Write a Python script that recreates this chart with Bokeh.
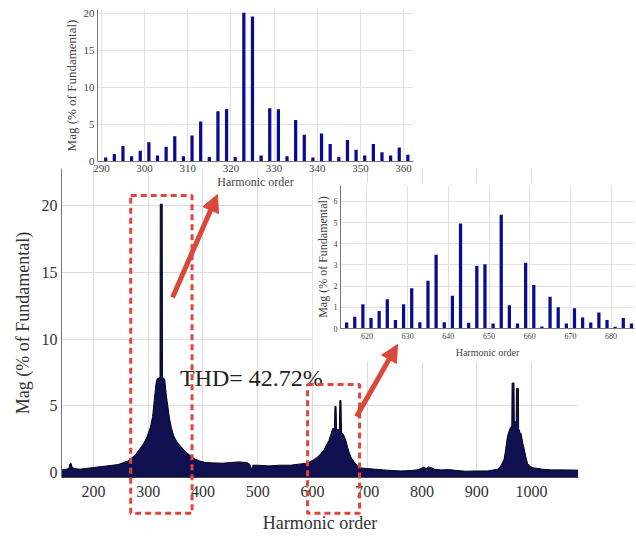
from bokeh.plotting import figure
from bokeh.models import Range1d, FixedTicker, Label, Arrow, NormalHead, BoxAnnotation
from bokeh.embed import file_html
from bokeh.resources import INLINE

# ---------------- data ----------------
# main spectrum envelope: harmonic order -> magnitude (% of fundamental)
main_h = [142, 150, 155, 157, 159, 161, 165, 175, 185, 195, 205, 215, 225, 235, 245,
          255, 262, 270, 278, 285, 292, 298, 304, 308, 311, 314, 316, 320, 321.5, 322,
          325.5, 326, 330, 333, 336, 339, 342, 346, 351, 356, 361, 367, 373, 380, 386,
          395, 405, 420, 436, 450, 465, 480, 486, 488, 491, 500, 520, 540, 560, 579,
          590, 600, 609, 615, 621, 626, 630, 634, 637, 640, 641, 643, 644, 649, 650,
          652, 653, 657, 661, 664, 667, 671, 676, 682, 688, 700, 715, 730, 745, 761,
          780, 791, 797, 803, 808, 812, 818, 823, 835, 850, 864, 880, 900, 920, 938,
          944, 950, 953, 956, 959, 962, 964, 964.5, 968, 968.5, 972, 972.5, 976, 976.5, 979,
          981, 984, 987, 990, 993, 1000, 1005, 1020, 1036, 1060, 1085]
main_v = [0.2, 0.25, 0.3, 0.65, 0.7, 0.4, 0.3, 0.25, 0.3, 0.35, 0.4, 0.45, 0.5, 0.55, 0.6,
          0.75, 0.85, 1.1, 1.4, 1.8, 2.2, 2.7, 3.4, 4.2, 5.4, 6.6, 7.0, 7.1, 7.1, 20.1,
          20.1, 7.1, 7.0, 5.8, 4.9, 4.0, 3.4, 2.8, 2.4, 2.1, 1.9, 1.6, 1.4, 1.15, 1.0,
          0.85, 0.75, 0.72, 0.7, 0.75, 0.8, 0.75, 0.6, 0.15, 0.55, 0.55, 0.5, 0.55, 0.55, 0.65,
          0.7, 0.9, 1.15, 1.4, 1.7, 2.1, 2.4, 2.9, 3.3, 3.3, 4.95, 4.95, 3.2, 3.2, 5.4,
          5.4, 3.0, 2.8, 2.4, 1.9, 1.5, 1.1, 0.8, 0.5, 0.35, 0.3, 0.25, 0.2, 0.15, 0.12,
          0.15, 0.2, 0.28, 0.4, 0.3, 0.42, 0.35, 0.25, 0.2, 0.22, 0.15, 0.1, 0.12, 0.12, 0.25,
          0.5, 1.0, 1.8, 2.7, 3.1, 3.4, 3.5, 6.7, 6.7, 3.8, 3.8, 6.3, 6.3, 3.3, 3.0,
          2.9, 2.2, 1.7, 1.1, 0.65, 0.4, 0.35, 0.25, 0.2, 0.2, 0.18]

# zoom around the switching frequency (top inset)
top_orders = [291, 293, 295, 297, 299, 301, 303, 305, 307, 309, 311, 313, 315, 317, 319, 321,
              323, 325, 327, 329, 331, 333, 335, 337, 339, 341, 343, 345, 347, 349, 351, 353,
              355, 357, 359, 361]
top_mag = [0.55, 1.0, 2.1, 0.7, 1.45, 2.6, 0.8, 2.0, 3.4, 0.7, 3.5, 5.4, 0.6, 6.8, 7.1, 0.6,
           20.1, 19.6, 0.8, 7.2, 7.05, 0.7, 5.6, 3.6, 0.55, 3.8, 2.35, 0.6, 2.9, 1.6, 0.8, 2.35,
           1.25, 0.8, 1.9, 0.9]

# zoom around twice the switching frequency (right inset)
right_orders = [615, 617, 619, 621, 623, 625, 627, 629, 631, 633, 635, 637, 639, 641, 643, 645,
                647, 649, 651, 653, 655, 657, 659, 661, 663, 665, 667, 669, 671, 673, 675, 677,
                679, 681, 683, 685]
right_mag = [0.28, 0.55, 1.15, 0.5, 0.83, 1.38, 0.4, 1.15, 1.9, 0.3, 2.25, 3.48, 0.3, 1.55, 4.96, 0.27,
             2.96, 3.04, 0.24, 5.37, 1.1, 0.24, 3.1, 2.05, 0.1, 1.5, 1.0, 0.24, 0.96, 0.52, 0.28, 0.76,
             0.4, 0.08, 0.5, 0.24]

main_xticks = [200, 300, 400, 500, 600, 700, 800, 900, 1000]
main_yticks = [0, 5, 10, 15, 20]
top_xticks = [290, 300, 310, 320, 330, 340, 350, 360]
top_yticks = [0, 5, 10, 15, 20]
right_xticks = [620, 630, 640, 650, 660, 670, 680]
right_yticks = [0, 1, 2, 3, 4, 5, 6]

thd_text = "THD= 42.72%"
x_title = "Harmonic order"
y_title = "Mag (% of Fundamental)"

# ---------------- styling / layout (page pixels) ----------------
SERIF = "Liberation Serif"
BAR = "#0b0b92"
SPEC_FILL = "#101050"
SPEC_LINE = "#03031a"
RED = "#d9483a"
GRID = "#dcdcdc"

# main frame placement
M_L, M_T, M_W, M_H = 61, 168, 517, 309
M_X0, M_X1 = 141.6, 1085.8
M_Y0, M_Y1 = -0.37, 22.77


def style_axes(p, tick_size, label_size, tick_color="#333333", grid=GRID):
    p.outline_line_color = None
    for ax in (p.xaxis, p.yaxis):
        ax.axis_line_color = "#777777"
        ax.major_tick_out = 0
        ax.major_tick_in = 0
        ax.minor_tick_line_color = None
        ax.major_label_text_font = SERIF
        ax.major_label_text_font_size = tick_size
        ax.major_label_text_color = tick_color
        ax.axis_label_text_font = SERIF
        ax.axis_label_text_font_size = label_size
        ax.axis_label_text_font_style = "normal"
        ax.axis_label_text_color = tick_color
    p.xgrid.grid_line_color = grid
    p.ygrid.grid_line_color = grid


def place(p, left, top):
    p.styles = {"position": "absolute", "left": f"{left}px", "top": f"{top}px"}


# ---- main figure (placed at page origin, borders give the frame position) ----
main = figure(width=636, height=536, min_border_left=M_L, min_border_top=M_T,
              min_border_right=636 - M_L - M_W, min_border_bottom=536 - M_T - M_H,
              x_range=Range1d(M_X0, M_X1), y_range=Range1d(M_Y0, M_Y1),
              output_backend="svg", toolbar_location=None)
style_axes(main, "16px", "18px")
main.xaxis.ticker = FixedTicker(ticks=main_xticks)
main.yaxis.ticker = FixedTicker(ticks=main_yticks)
main.xaxis.axis_label = x_title
main.yaxis.axis_label = y_title
main.xaxis.axis_line_color = "#444444"
main.xaxis.major_label_standoff = 8
main.xaxis.axis_label_standoff = 13
main.yaxis.major_label_standoff = 4
main.yaxis.axis_label_standoff = 6
main.varea(x=main_h, y1=M_Y0, y2=main_v, fill_color=SPEC_FILL)
main.line(x=main_h, y=main_v, line_color=SPEC_LINE, line_width=1)
main.add_layout(Label(x=358, y=7.1, text=thd_text, text_font=SERIF, text_font_size="24px",
                      text_baseline="middle", text_color="#222222"))
place(main, 0, 0)

# ---- top inset ----
top = figure(width=358, height=194, min_border_left=30, min_border_top=9,
             min_border_right=5, min_border_bottom=33,
             x_range=Range1d(289.1, 362.3), y_range=Range1d(0, 20.54),
             output_backend="svg", toolbar_location=None)
style_axes(top, "11px", "12px", "#444444", "#e2e2e2")
top.yaxis.axis_label_text_font_size = "13px"
top.border_fill_alpha = 0
top.xaxis.ticker = FixedTicker(ticks=top_xticks)
top.yaxis.ticker = FixedTicker(ticks=top_yticks)
top.xaxis.axis_label = x_title
top.yaxis.axis_label = y_title
top.xaxis.major_label_standoff = 3
top.xaxis.axis_label_standoff = 0
top.yaxis.major_label_standoff = 3
top.yaxis.axis_label_standoff = 2
top.vbar(x=top_orders, top=top_mag, width=0.75, bottom=0, fill_color=BAR, line_color=None)
place(top, 60, 0)

# ---- right inset ----
right = figure(width=324, height=180, min_border_left=27, min_border_top=3,
               min_border_right=2, min_border_bottom=34,
               x_range=Range1d(613.5, 685.75), y_range=Range1d(0, 6.755),
               output_backend="svg", toolbar_location=None)
style_axes(right, "8px", "10px", "#444444", "#e2e2e2")
right.yaxis.axis_label_text_font_size = "12px"
right.xaxis.ticker = FixedTicker(ticks=right_xticks)
right.yaxis.ticker = FixedTicker(ticks=right_yticks)
right.xaxis.axis_label = x_title
right.yaxis.axis_label = y_title
right.xaxis.major_label_standoff = 4
right.xaxis.axis_label_standoff = 5
right.yaxis.major_label_standoff = 3
right.yaxis.axis_label_standoff = 1
right.vbar(x=right_orders, top=right_mag, width=0.8, bottom=0, fill_color=BAR, line_color=None)
place(right, 312, 182)

# ---- overlay for zoom boxes and arrows (page pixel coordinates) ----
ov = figure(width=636, height=537, x_range=Range1d(0, 636), y_range=Range1d(537, 0),
            min_border_left=0, min_border_right=0, min_border_top=0, min_border_bottom=0,
            x_axis_location=None, y_axis_location=None,
            output_backend="svg", toolbar_location=None)
ov.grid.visible = False
ov.outline_line_color = None
ov.background_fill_alpha = 0
ov.border_fill_alpha = 0
place(ov, 0, 0)


def px_x(h):
    return M_L + (h - M_X0) / (M_X1 - M_X0) * M_W


def px_y(m):
    return M_T + M_H - (m - M_Y0) / (M_Y1 - M_Y0) * M_H


# zoom boxes in main-plot units: (h_left, h_right, mag_bottom, mag_top)
zoom_boxes = [(268, 380, -3.05, 20.75), (591, 686, -3.05, 6.6)]
for hl, hr, mb, mt in zoom_boxes:
    ov.add_layout(BoxAnnotation(left=px_x(hl), right=px_x(hr), top=px_y(mt), bottom=px_y(mb),
                                fill_alpha=0, line_color="#e0443a", line_width=3, line_dash="6 4",
                                line_alpha=1))

# arrows (page pixels): start -> end
arrows = [((172, 297), (217, 194)), ((356, 416), (397, 344))]
for (x0, y0), (x1, y1) in arrows:
    ov.add_layout(Arrow(end=NormalHead(size=17, fill_color=RED, line_color=RED),
                        x_start=x0, y_start=y0, x_end=x1, y_end=y1,
                        line_color=RED, line_width=5))

open("out.html", "w").write(file_html([main, top, right, ov], INLINE))
